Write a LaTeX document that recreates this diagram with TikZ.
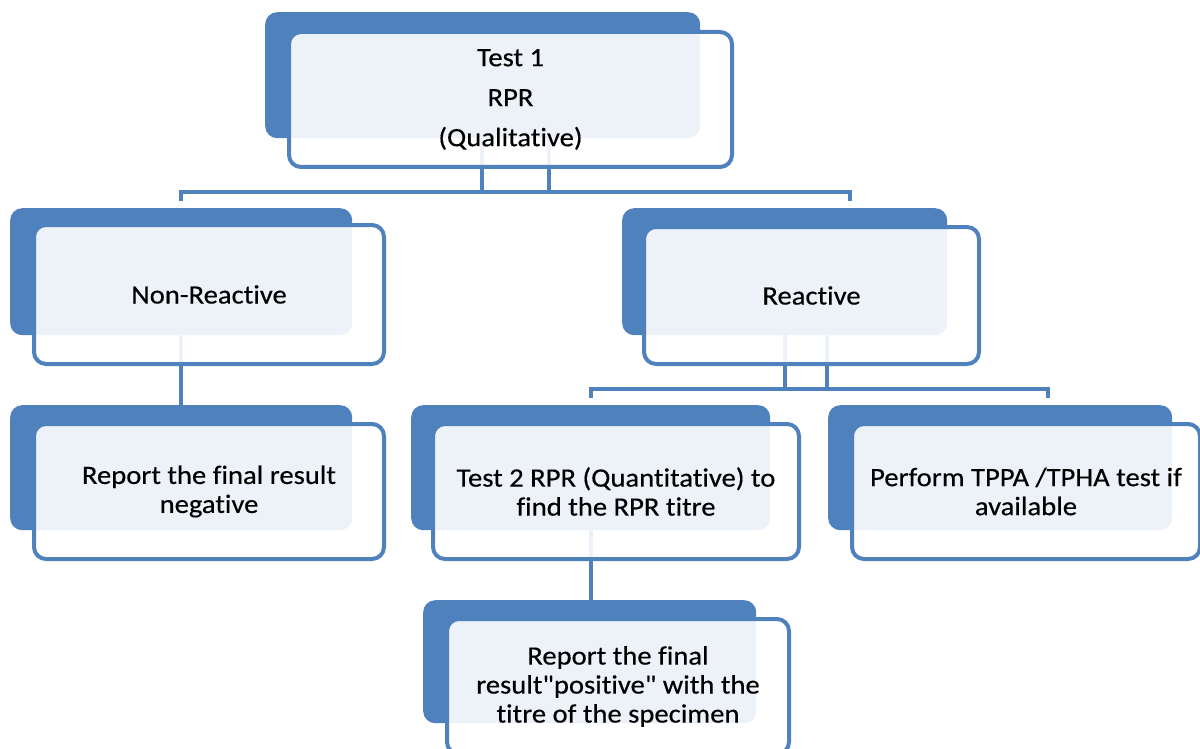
\documentclass[tikz,border=0pt]{standalone}
\usepackage{fontspec}
\setmainfont[FakeStretch=1.08,FakeBold=0.4,Ligatures={TeXOff,NoCommon}]{Carlito}
\usetikzlibrary{calc}
\definecolor{sblue}{HTML}{4F81BD}
\pgfdeclarelayer{bg}
\pgfsetlayers{bg,main}
\begin{document}
\begin{tikzpicture}[x=1pt,y=-1pt,
  backbox/.style={draw=none, fill=sblue, rounded corners=12pt, inner sep=0pt, anchor=north west},
  frontbox/.style={draw=sblue, line width=4pt, fill=white, fill opacity=0.9, text opacity=1,
    rounded corners=12pt, inner sep=0pt, align=center, anchor=north west,
    font=\fontsize{26.5}{29}\selectfont},
  conn/.style={draw=sblue, line width=4pt},
  dconn/.style={draw=sblue, line width=4pt, fill=white},
]
\useasboundingbox (0,0) rectangle (1200,749);

% back boxes
\node[backbox, minimum width=435pt, minimum height=126pt] (b1) at (265,12) {};
\node[backbox, minimum width=342pt, minimum height=127pt] (bNR) at (10,208) {};
\node[backbox, minimum width=325pt, minimum height=127pt] (bR) at (622,208) {};
\node[backbox, minimum width=342pt, minimum height=125pt] (bRN) at (10,405) {};
\node[backbox, minimum width=359pt, minimum height=125pt] (bT2) at (411,405) {};
\node[backbox, minimum width=344pt, minimum height=125pt] (bP) at (828,405) {};
\node[backbox, minimum width=333pt, minimum height=123pt] (bRP) at (423,600) {};

% front boxes
\node[frontbox, minimum width=443pt, minimum height=135pt,
  font=\fontsize{26.5}{40}\selectfont] (t1) at (287,30) {Test 1\\RPR\\(Qualitative)};
\node[frontbox, minimum width=350pt, minimum height=139pt] (nr) at (32,223) {Non-Reactive};
\node[frontbox, minimum width=335pt, minimum height=137pt] (r) at (642,225) {Reactive};
\node[frontbox, minimum width=350pt, minimum height=135pt] (rn) at (32,422) {Report the final result\\negative};
\node[frontbox, minimum width=366pt, minimum height=135pt] (t2) at (431,422) {Test 2 RPR (Quantitative) to\\find the RPR titre};
\node[frontbox, minimum width=348pt, minimum height=135pt] (p) at (850,422) {Perform TPPA /TPHA test if\\available};
\node[frontbox, minimum width=342pt, minimum height=135pt] (rp) at (445,617) {Report the final\\result"positive" with the\\titre of the specimen};

% helper coordinates
\coordinate (barAend) at (850,192);
\coordinate (barBend) at (1048,389);
\coordinate (dA1) at (481.5,130);
\coordinate (dA2) at (548.5,192);
\coordinate (dB1) at (784.5,330);
\coordinate (dB2) at (827,389);

% connectors behind
\begin{pgfonlayer}{bg}
  \draw[dconn] (dA1) rectangle (dA2);
  \draw[conn] ($(bNR.north)+(0,-7)$) -- (bNR.north |- dA2) -- (barAend) -- ++(0,9);
  \draw[conn] (bNR.south) -- (bRN.north);
  \draw[dconn] (dB1) rectangle (dB2);
  \draw[conn] ($(bT2.north)+(0,-7)$) -- (bT2.north |- dB2) -- (barBend) -- ++(0,9);
  \draw[conn] (bT2.south) -- (bT2.south |- bRP.north);
\end{pgfonlayer}
\end{tikzpicture}
\end{document}
